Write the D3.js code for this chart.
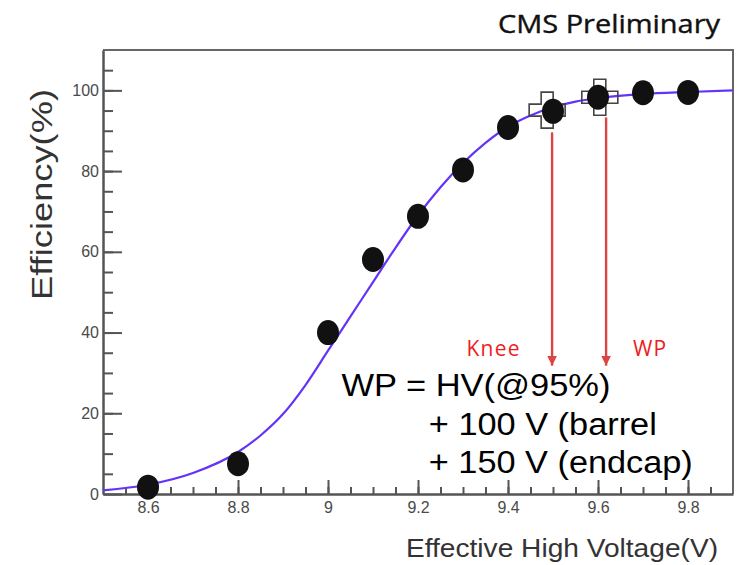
<!DOCTYPE html>
<html>
<head>
<meta charset="utf-8">
<script src="https://cdn.jsdelivr.net/npm/d3@7"></script>
<style>
  body { margin: 0; background: #fff; }
  svg { display: block; }
  .axis path, .axis line { stroke: #555; }
</style>
</head>
<body>
<div class="chart"></div>
<script>
var width = 745,
  height = 565;

// measured points (HV in kV, efficiency in %)
var hvPoints = [8.6, 8.8, 9.0, 9.1, 9.2, 9.3, 9.4, 9.5, 9.6, 9.7, 9.8];
var effPoints = [1.7, 7.5, 40.0, 58.1, 68.8, 80.3, 90.8, 94.8, 98.3, 99.4, 99.5];

// sigmoid fit
var fitHV = [8.5, 8.6, 8.7, 8.8, 8.85, 8.9, 8.95, 9.0, 9.05, 9.1, 9.15, 9.2, 9.25, 9.3, 9.35, 9.4, 9.45, 9.5, 9.55, 9.6, 9.7, 9.8, 9.9];
var fitEff = [0.9, 2.3, 5.2, 10.4, 14.5, 19.8, 27.0, 35.5, 44.0, 52.5, 61.0, 69.0, 76.0, 82.0, 87.0, 91.0, 93.8, 95.8, 97.2, 98.1, 99.1, 99.6, 100];

// knee and working point markers
var crossHV = [9.487, 9.604];
var crossEff = [95.1, 98.3];

// arrows: x position, start, end (data units)
var arrowHV = [9.498, 9.618];
var arrowTop = [89.6, 93.3];
var arrowBottom = [31.8, 31.8];
var arrowLabels = ['Knee', 'WP'];
var arrowLabelHV = [9.368, 9.716];

var xTickValues = [8.6, 8.8, 9.0, 9.2, 9.4, 9.6, 9.8];
var xTickLabels = ['8.6', '8.8', '9', '9.2', '9.4', '9.6', '9.8'];
var yTickValues = [0, 20, 40, 60, 80, 100];
var yTickLabels = ['0', '20', '40', '60', '80', '100'];

var noteLines = ['WP = HV(@95%)', '+ 100 V (barrel', '+ 150 V (endcap)'];

var svg = d3.select('.chart')
  .append('svg')
  .attr('width', width)
  .attr('height', height);

var xScale = d3.scaleLinear()
  .domain([8.5, 9.9])
  .range([103, 733]);

var yScale = d3.scaleLinear()
  .domain([0, 110])
  .range([494, 50]);

// minor ticks
var xMinor = d3.range(8.55, 9.89, 0.05);
var yMinor = d3.range(5, 106, 5);

svg.append('g')
  .attr('class', 'axis')
  .attr('transform', 'translate(0,494)')
  .call(d3.axisBottom(xScale).tickValues(xMinor).tickSize(-7).tickFormat(''))
  .call(function (g) { g.select('.domain').remove(); })
  .selectAll('line').attr('stroke-width', 2);

svg.append('g')
  .attr('class', 'axis')
  .attr('transform', 'translate(103,0)')
  .call(d3.axisLeft(yScale).tickValues(yMinor).tickSize(-10).tickFormat(''))
  .call(function (g) { g.select('.domain').remove(); })
  .selectAll('line').attr('stroke-width', 2);

// frame top and right
svg.append('path')
  .attr('d', 'M' + xScale(8.5) + ',' + yScale(110) + 'H' + xScale(9.9) + 'V' + yScale(0))
  .attr('fill', 'none')
  .attr('stroke', '#666')
  .attr('stroke-width', 2);

// major axes
var xAxis = d3.axisBottom(xScale)
  .tickValues(xTickValues)
  .tickFormat(function (d, i) { return xTickLabels[i]; })
  .tickSizeInner(-14)
  .tickSizeOuter(0)
  .tickPadding(8);

var yAxis = d3.axisLeft(yScale)
  .tickValues(yTickValues)
  .tickFormat(function (d, i) { return yTickLabels[i]; })
  .tickSizeInner(-19)
  .tickSizeOuter(0)
  .tickPadding(4);

var styleAxis = function (g) {
  g.selectAll('line').attr('stroke-width', 2);
  g.select('.domain').attr('stroke-width', 2.5);
  g.selectAll('text')
    .attr('font-family', '"Liberation Sans", Arial, sans-serif')
    .attr('font-size', 16)
    .attr('fill', '#4a4a4a');
};

svg.append('g')
  .attr('class', 'axis x')
  .attr('transform', 'translate(0,494)')
  .call(xAxis)
  .call(styleAxis);

svg.append('g')
  .attr('class', 'axis y')
  .attr('transform', 'translate(103,0)')
  .call(yAxis)
  .call(styleAxis);

// fit curve
var fitLine = d3.line()
  .x(function (d, i) { return xScale(fitHV[i]); })
  .y(function (d) { return yScale(d); })
  .curve(d3.curveMonotoneX);

svg.append('path')
  .datum(fitEff)
  .attr('d', fitLine)
  .attr('fill', 'none')
  .attr('stroke', '#6433f8')
  .attr('stroke-width', 2.2);

// open crosses
var cross = d3.symbol().type(d3.symbolCross).size(720);
svg.selectAll('path.cross')
  .data(crossEff)
  .enter()
  .append('path')
  .attr('class', 'cross')
  .attr('d', cross)
  .attr('transform', function (d, i) {
    return 'translate(' + xScale(crossHV[i]) + ',' + yScale(d) + ')';
  })
  .attr('fill', 'none')
  .attr('stroke', '#444')
  .attr('stroke-width', 1.6);

// data points
svg.selectAll('ellipse.pt')
  .data(effPoints)
  .enter()
  .append('ellipse')
  .attr('class', 'pt')
  .attr('cx', function (d, i) { return xScale(hvPoints[i]); })
  .attr('cy', function (d) { return yScale(d); })
  .attr('rx', 11)
  .attr('ry', 12.5)
  .attr('fill', '#111');

// arrows
svg.append('defs').append('marker')
  .attr('id', 'head')
  .attr('viewBox', '0 0 10 10')
  .attr('refX', 10)
  .attr('refY', 5)
  .attr('markerWidth', 4)
  .attr('markerHeight', 4)
  .attr('markerUnits', 'strokeWidth')
  .attr('orient', 'auto')
  .append('path')
  .attr('d', 'M0,0L10,5L0,10Z')
  .attr('fill', '#dc4545');

svg.selectAll('line.arrow')
  .data(arrowHV)
  .enter()
  .append('line')
  .attr('class', 'arrow')
  .attr('x1', function (d) { return xScale(d); })
  .attr('x2', function (d) { return xScale(d); })
  .attr('y1', function (d, i) { return yScale(arrowTop[i]); })
  .attr('y2', function (d, i) { return yScale(arrowBottom[i]); })
  .attr('stroke', '#dc4545')
  .attr('stroke-width', 2.4)
  .attr('marker-end', 'url(#head)');

svg.selectAll('text.arrowlabel')
  .data(arrowLabels)
  .enter()
  .append('text')
  .attr('class', 'arrowlabel')
  .attr('x', function (d, i) { return xScale(arrowLabelHV[i]); })
  .attr('y', yScale(34.3))
  .attr('text-anchor', 'middle')
  .attr('font-family', '"Open Sans", sans-serif')
  .attr('font-size', 21)
  .attr('letter-spacing', 1.2)
  .attr('fill', '#f01c1c')
  .text(function (d) { return d; });

// working point note
var noteX = [9.03, 9.224, 9.224];
var noteY = [24.2, 14.5, 5.1];
var noteLen = [269, 228, 264];
svg.selectAll('text.note')
  .data(noteLines)
  .enter()
  .append('text')
  .attr('class', 'note')
  .attr('x', function (d, i) { return xScale(noteX[i]); })
  .attr('y', function (d, i) { return yScale(noteY[i]); })
  .attr('font-family', '"Liberation Sans", Arial, sans-serif')
  .attr('font-size', 31)
  .attr('textLength', function (d, i) { return noteLen[i]; })
  .attr('lengthAdjust', 'spacingAndGlyphs')
  .attr('fill', '#000')
  .text(function (d) { return d; });

// titles
svg.append('text')
  .attr('x', 498)
  .attr('y', 33)
  .attr('font-family', '"Open Sans", sans-serif')
  .attr('font-size', 26)
  .attr('textLength', 222)
  .attr('lengthAdjust', 'spacingAndGlyphs')
  .attr('fill', '#111')
  .attr('stroke', '#111')
  .attr('stroke-width', 0.4)
  .text('CMS Preliminary');

svg.append('text')
  .attr('x', 406)
  .attr('y', 557)
  .attr('font-family', '"Liberation Sans", Arial, sans-serif')
  .attr('font-size', 25)
  .attr('textLength', 312)
  .attr('lengthAdjust', 'spacingAndGlyphs')
  .attr('fill', '#333')
  .text('Effective High Voltage(V)');

svg.append('text')
  .attr('transform', 'translate(52,300) rotate(-90)')
  .attr('font-family', '"Liberation Sans", Arial, sans-serif')
  .attr('font-size', 30)
  .attr('textLength', 211)
  .attr('lengthAdjust', 'spacingAndGlyphs')
  .attr('fill', '#333')
  .text('Efficiency(%)');
</script>
</body>
</html>
